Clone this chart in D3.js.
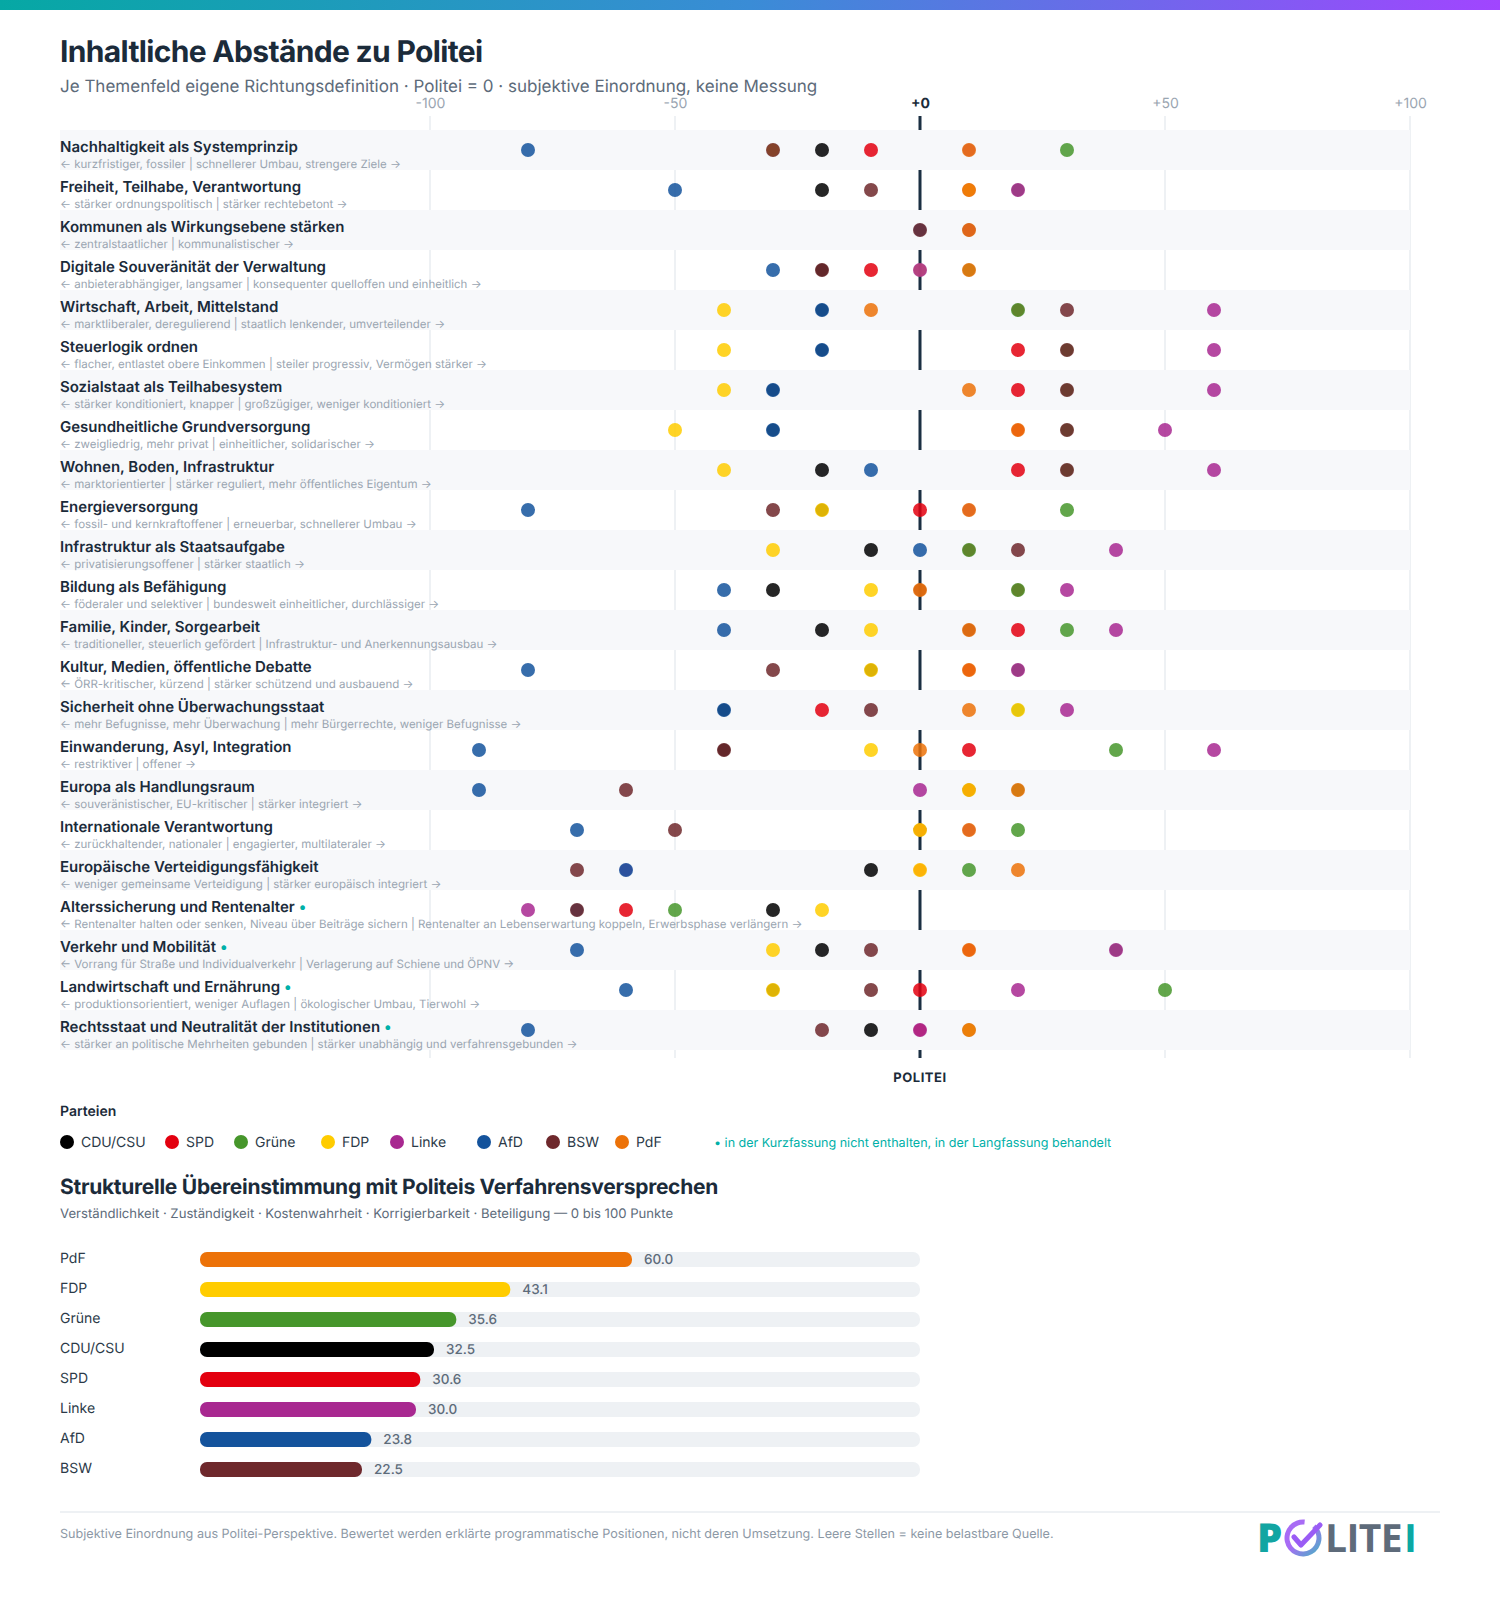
<!DOCTYPE html>
<html lang="de">
<head>
  <meta charset="UTF-8">
  <title>Inhaltliche Abstände zu Politei</title>
  <script src="https://d3js.org/d3.v7.min.js"></script>
  <style>
    html, body { margin: 0; padding: 0; background: #fff; overflow: hidden; }
    svg { display: block; font-family: Inter, "Noto Sans", sans-serif; text-rendering: geometricPrecision; }
  </style>
</head>
<body>
  <div id="chart"></div>

  <script>
  // Themenfelder
  const topics = [
    "Nachhaltigkeit als Systemprinzip", "Freiheit, Teilhabe, Verantwortung", "Kommunen als Wirkungsebene stärken",
    "Digitale Souveränität der Verwaltung", "Wirtschaft, Arbeit, Mittelstand", "Steuerlogik ordnen",
    "Sozialstaat als Teilhabesystem", "Gesundheitliche Grundversorgung", "Wohnen, Boden, Infrastruktur",
    "Energieversorgung", "Infrastruktur als Staatsaufgabe", "Bildung als Befähigung",
    "Familie, Kinder, Sorgearbeit", "Kultur, Medien, öffentliche Debatte", "Sicherheit ohne Überwachungsstaat",
    "Einwanderung, Asyl, Integration", "Europa als Handlungsraum", "Internationale Verantwortung",
    "Europäische Verteidigungsfähigkeit", "Alterssicherung und Rentenalter", "Verkehr und Mobilität",
    "Landwirtschaft und Ernährung", "Rechtsstaat und Neutralität der Institutionen"
  ];
  const directions = [
    "← kurzfristiger, fossiler | schnellerer Umbau, strengere Ziele →",
    "← stärker ordnungspolitisch | stärker rechtebetont →",
    "← zentralstaatlicher | kommunalistischer →",
    "← anbieterabhängiger, langsamer | konsequenter quelloffen und einheitlich →",
    "← marktliberaler, deregulierend | staatlich lenkender, umverteilender →",
    "← flacher, entlastet obere Einkommen | steiler progressiv, Vermögen stärker →",
    "← stärker konditioniert, knapper | großzügiger, weniger konditioniert →",
    "← zweigliedrig, mehr privat | einheitlicher, solidarischer →",
    "← marktorientierter | stärker reguliert, mehr öffentliches Eigentum →",
    "← fossil- und kernkraftoffener | erneuerbar, schnellerer Umbau →",
    "← privatisierungsoffener | stärker staatlich →",
    "← föderaler und selektiver | bundesweit einheitlicher, durchlässiger →",
    "← traditioneller, steuerlich gefördert | Infrastruktur- und Anerkennungsausbau →",
    "← ÖRR-kritischer, kürzend | stärker schützend und ausbauend →",
    "← mehr Befugnisse, mehr Überwachung | mehr Bürgerrechte, weniger Befugnisse →",
    "← restriktiver | offener →",
    "← souveränistischer, EU-kritischer | stärker integriert →",
    "← zurückhaltender, nationaler | engagierter, multilateraler →",
    "← weniger gemeinsame Verteidigung | stärker europäisch integriert →",
    "← Rentenalter halten oder senken, Niveau über Beiträge sichern | Rentenalter an Lebenserwartung koppeln, Erwerbsphase verlängern →",
    "← Vorrang für Straße und Individualverkehr | Verlagerung auf Schiene und ÖPNV →",
    "← produktionsorientiert, weniger Auflagen | ökologischer Umbau, Tierwohl →",
    "← stärker an politische Mehrheiten gebunden | stärker unabhängig und verfahrensgebunden →"
  ];
  // Themen, die nur in der Langfassung stehen
  const longOnly = [19, 20, 21, 22];

  const parties = ["CDU/CSU", "SPD", "Grüne", "FDP", "Linke", "AfD", "BSW", "PdF"];
  const partyColors = ["#000000", "#e3000f", "#46962b", "#ffcc00", "#a82890", "#14539c", "#6e282c", "#ec7208"];

  // Abstand je Partei und Thema (null = keine belastbare Quelle)
  const cdu =   [-20,-20,10,-20,-20,-20,-30,-30,-20,-20,-10,-30,-20,-10,-40,-40,10,0,-10,-30,-20,-30,-10];
  const spd =   [-10,10,null,-10,20,20,20,20,20,0,10,20,20,10,-20,10,10,0,0,-60,10,0,0];
  const gruene = [30,20,null,10,20,30,30,30,30,30,10,20,30,20,20,40,20,20,10,-50,40,50,10];
  const fdp =   [-30,10,null,0,-40,-40,-40,-50,-40,-20,-30,-10,-10,-10,20,-10,10,0,0,-20,-30,-30,10];
  const linke = [10,20,10,0,60,60,60,50,60,10,40,30,40,20,30,60,0,10,-60,-80,40,20,0];
  const afd =   [-80,-50,0,-30,-20,-20,-30,-30,-10,-80,0,-40,-40,-80,-40,-90,-90,-70,-60,-70,-70,-60,-80];
  const bsw =   [-30,-10,0,-20,30,30,30,30,30,-30,20,0,10,-30,-10,-40,-60,-50,-70,-70,-10,-10,-20];
  const pdf =   [10,10,10,10,-10,null,10,20,null,10,null,0,10,10,10,0,20,10,20,null,10,null,10];
  const positions = [cdu, spd, gruene, fdp, linke, afd, bsw, pdf];

  const axisTicks = [-100, -50, 0, 50, 100];

  // Strukturelle Übereinstimmung
  const scoreParties = ["PdF", "FDP", "Grüne", "CDU/CSU", "SPD", "Linke", "AfD", "BSW"];
  const scoreValues = [60.0, 43.1, 35.6, 32.5, 30.6, 30.0, 23.8, 22.5];

  const legendDotX = [67, 172, 241, 328, 397, 484, 553, 622];

  const ink = "#1b2b3a", muted = "#5d6b7a", faint = "#9aa5b1", grid = "#eef1f4", teal = "#00b0a8";

  const svg = d3.select("#chart").append("svg").attr("width", 1500).attr("height", 1599);

  const defs = svg.append("defs");
  const topGrad = defs.append("linearGradient").attr("id", "topbar");
  topGrad.append("stop").attr("offset", "0").attr("stop-color", "#06a8a4");
  topGrad.append("stop").attr("offset", "0.5").attr("stop-color", "#3a8cd6");
  topGrad.append("stop").attr("offset", "1").attr("stop-color", "#a145ff");
  svg.append("rect").attr("width", 1500).attr("height", 10).attr("fill", "url(#topbar)");

  function label(x, y, text, size, weight, color, anchor) {
    return svg.append("text").attr("x", x).attr("y", y).text(text)
      .attr("font-size", size).attr("font-weight", weight).attr("fill", color)
      .attr("text-anchor", anchor || "start");
  }

  label(60, 62, "Inhaltliche Abstände zu Politei", 30, 700, ink).attr("letter-spacing", -0.67);
  label(60, 92, "Je Themenfeld eigene Richtungsdefinition · Politei = 0 · subjektive Einordnung, keine Messung", 17, 400, muted);

  // Abstandsdiagramm
  const x = d3.scaleLinear().domain([-100, 100]).range([430, 1410]);
  const y = d3.scaleBand().domain(d3.range(topics.length)).range([130, 1050]);

  const xAxis = d3.axisTop(x).tickValues(axisTicks).tickSize(0).tickPadding(0)
    .tickFormat(d => (d >= 0 ? "+" : "") + d);
  const axisG = svg.append("g").attr("transform", "translate(0,108)").call(xAxis);
  axisG.select(".domain").remove();
  axisG.selectAll("text")
    .attr("dy", 0).attr("font-family", "Inter").attr("font-size", 14)
    .attr("font-weight", d => d === 0 ? 700 : 400)
    .attr("fill", d => d === 0 ? ink : faint);

  svg.append("g").selectAll("line").data(axisTicks).enter().append("line")
    .attr("x1", d => x(d)).attr("x2", d => x(d))
    .attr("y1", 116).attr("y2", 1058)
    .attr("stroke", d => d === 0 ? "#1b2f42" : grid)
    .attr("stroke-width", d => d === 0 ? 3 : 2);

  svg.append("g").selectAll("rect").data(d3.range(0, topics.length, 2)).enter().append("rect")
    .attr("x", 60).attr("y", d => y(d)).attr("width", 1350).attr("height", y.bandwidth())
    .attr("fill", "#f7f8fa");

  const rows = svg.append("g").selectAll("g").data(topics).enter().append("g")
    .attr("transform", (d, i) => `translate(60,${y(i)})`);
  const rowTitle = rows.append("text").attr("y", 22).attr("font-size", 15).attr("font-weight", 600).attr("fill", ink);
  rowTitle.append("tspan").text(d => d);
  rowTitle.filter((d, i) => longOnly.includes(i)).append("tspan")
    .attr("fill", teal).attr("dx", 4).text("•");
  rows.append("text").attr("y", 38).attr("font-size", 11.5).attr("fill", faint)
    .text((d, i) => directions[i]);

  // Punkte in Legendenreihenfolge, Überlagerungen mischen sich über die Deckkraft.
  // Verdeckte Punkte etwas kleiner, damit am Rand kein dunkler Saum bleibt.
  const covered = (p, i) => positions.slice(p + 1).some(s => s[i] === positions[p][i]);
  parties.forEach((party, p) => {
    const pts = positions[p].map((v, i) => ({ v, i })).filter(d => d.v !== null);
    svg.append("g").selectAll("circle").data(pts).enter().append("circle")
      .attr("cx", d => x(d.v))
      .attr("cy", d => y(d.i) + y.bandwidth() / 2)
      .attr("r", d => covered(p, d.i) ? 6.4 : 7)
      .attr("fill", partyColors[p])
      .attr("fill-opacity", 0.85);
  });

  label(x(0), 1082, "POLITEI", 13, 700, ink, "middle").attr("letter-spacing", 0.52);

  // Legende
  label(60, 1116, "Parteien", 14, 600, ink);
  parties.forEach((party, p) => {
    svg.append("circle").attr("cx", legendDotX[p]).attr("cy", 1142).attr("r", 7).attr("fill", partyColors[p]);
    label(legendDotX[p] + 14, 1147, party, 14, 400, "#2b3a48");
  });
  label(714, 1147, "• in der Kurzfassung nicht enthalten, in der Langfassung behandelt", 12.55, 400, teal);

  // Balken
  label(60, 1194, "Strukturelle Übereinstimmung mit Politeis Verfahrensversprechen", 21, 700, ink).attr("letter-spacing", -0.28);
  label(60, 1218, "Verständlichkeit · Zuständigkeit · Kostenwahrheit · Korrigierbarkeit · Beteiligung — 0 bis 100 Punkte", 13.15, 400, muted);

  const bx = d3.scaleLinear().domain([0, 100]).range([200, 920]);
  const by = d3.scaleBand().domain(scoreParties).range([1252, 1492]);
  const barH = 15;

  svg.append("g").selectAll("rect").data(scoreParties).enter().append("rect")
    .attr("x", bx(0)).attr("y", d => by(d)).attr("width", bx(100) - bx(0)).attr("height", barH)
    .attr("rx", 7).attr("fill", grid);
  svg.append("g").selectAll("rect").data(scoreValues).enter().append("rect")
    .attr("x", bx(0)).attr("y", (d, i) => by(scoreParties[i]))
    .attr("width", d => bx(d) - bx(0)).attr("height", barH).attr("rx", 7)
    .attr("fill", (d, i) => partyColors[parties.indexOf(scoreParties[i])]);
  svg.append("g").selectAll("text").data(scoreParties).enter().append("text")
    .attr("x", 60).attr("y", d => by(d) + 11).attr("font-size", 14).attr("fill", "#2b3a48").text(d => d);
  svg.append("g").selectAll("text").data(scoreValues).enter().append("text")
    .attr("x", d => bx(d) + 12).attr("y", (d, i) => by(scoreParties[i]) + 12)
    .attr("font-size", 13.5).attr("font-weight", 500).attr("fill", muted).text(d => d.toFixed(1));

  // Fußzeile
  svg.append("line").attr("x1", 60).attr("x2", 1440).attr("y1", 1512).attr("y2", 1512)
    .attr("stroke", grid).attr("stroke-width", 2);
  label(60, 1538, "Subjektive Einordnung aus Politei-Perspektive. Bewertet werden erklärte programmatische Positionen, nicht deren Umsetzung. Leere Stellen = keine belastbare Quelle.", 12.6, 400, "#8d99a6");

  // Logo
  const ringGrad = defs.append("linearGradient").attr("id", "ring")
    .attr("x1", "0").attr("y1", "0").attr("x2", "1").attr("y2", "1");
  ringGrad.append("stop").attr("offset", "0.45").attr("stop-color", "#a86cf5");
  ringGrad.append("stop").attr("offset", "1").attr("stop-color", "#3fb8c0");

  const logoFont = '"Open Sans", sans-serif';
  label(1257, 1552, "P", 40, 800, "#12a5a2").attr("font-family", logoFont);
  label(1325, 1552, "LITE", 39, 700, "#5e6b7a").attr("font-family", logoFont).attr("letter-spacing", -0.6);
  label(1404, 1552, "I", 39, 700, "#0ba8a4").attr("font-family", logoFont);

  const ringArc = d3.arc().innerRadius(13.5).outerRadius(18.5)
    .startAngle(0.75).endAngle(2 * Math.PI + 0.1);
  svg.append("path").attr("transform", "translate(1303,1538)").attr("d", ringArc())
    .attr("fill", "url(#ring)");
  svg.append("path").attr("d", "M1294,1537 L1301,1545 L1320,1525")
    .attr("fill", "none").attr("stroke", "#9a5cf5").attr("stroke-width", 5)
    .attr("stroke-linecap", "round").attr("stroke-linejoin", "round");
  </script>
</body>
</html>
